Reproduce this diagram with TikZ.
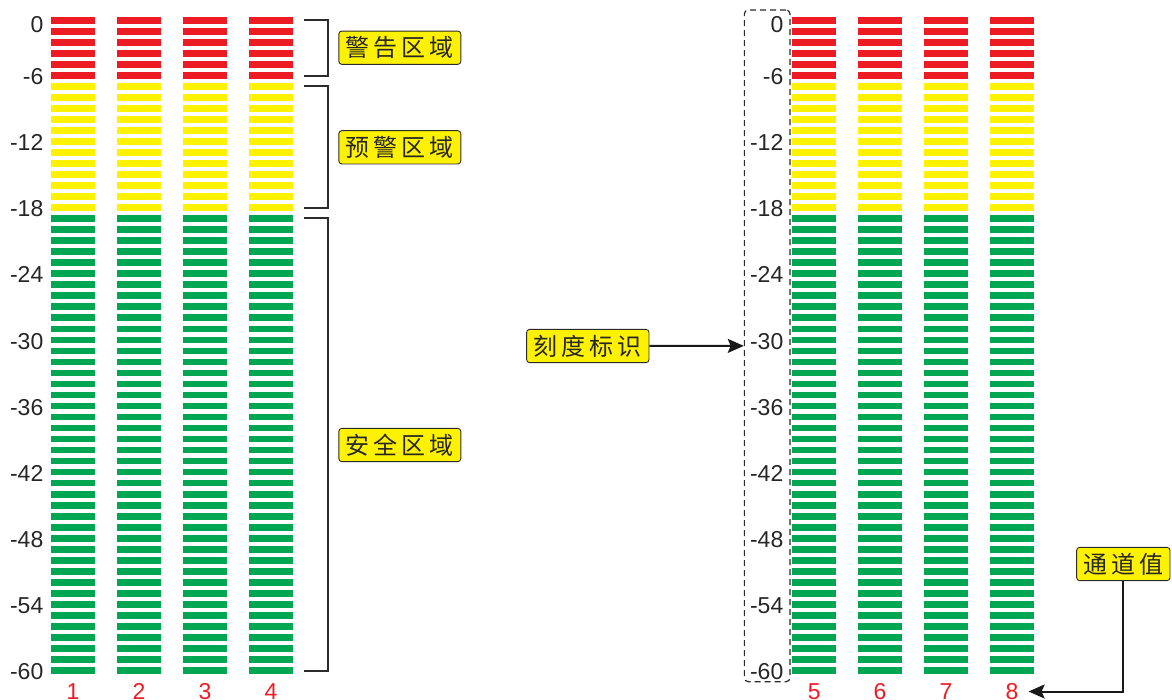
\documentclass[tikz,border=0pt]{standalone}
\usepackage{fontspec}
\setmainfont{Liberation Sans}
\newfontfamily\cjk{Noto Sans CJK SC}
\usetikzlibrary{arrows.meta}
\definecolor{mred}{HTML}{ED1C24}
\definecolor{myellow}{HTML}{FFF200}
\definecolor{mgreen}{HTML}{00A651}
\definecolor{mline}{HTML}{2B2B2B}
\newcommand{\gp}{\hspace{4pt}}
\begin{document}
\begin{tikzpicture}[x=1pt,y=-1pt,
  tag/.style={draw=mline, line width=0.9pt, fill=myellow, rounded corners=3pt,
    font=\cjk\fontsize{24}{24}\selectfont, inner sep=0pt, minimum height=33.3pt, text=black!85},
  scalelab/.style={anchor=east, inner sep=0pt, font=\fontsize{23}{23}\selectfont, text=black!85},
  chlab/.style={inner sep=0pt, text=mred, font=\fontsize{23}{23}\selectfont},
  brk/.style={draw=mline, line width=2pt},
  conn/.style={draw=black!90, line width=2pt, -{Stealth[length=16pt,width=14pt,inset=3pt]}}
]
\useasboundingbox (0,0) rectangle (1172,699);
% meter bars
\foreach \gx in {51,117,183,249,792.3,858,924,990}{
  \foreach \i in {0,...,59}{
    \pgfmathsetmacro\yc{20.3+11.02*\i}
    \ifnum\i<6 \def\barcol{mred}\else\ifnum\i<18 \def\barcol{myellow}\else\def\barcol{mgreen}\fi\fi
    \fill[\barcol] (\gx,\yc-3.35) rectangle ++(44,6.7);
  }
}
% scale labels
\node[scalelab] (la0) at (43.5,25) {0};
\node[scalelab] (ra0) at (783.5,25) {0};
\foreach \k in {1,...,10}{
  \pgfmathsetmacro\yl{20.3+11.02*(6*\k-1)+1.2}
  \pgfmathtruncatemacro\lab{-6*\k}
  \node[scalelab] (la\k) at (43.5,\yl) {\lab};
  \node[scalelab] (ra\k) at (783.5,\yl) {\lab};
}
% channel numbers
\foreach \n/\x in {1/73,2/139,3/205,4/271,5/814.3,6/880,7/946,8/1012}{
  \node[chlab] (c\n) at (\x,691.5) {\n};
}
% brackets
\draw[brk] (304,20) -- (328,20) -- (328,75.7) -- (304,75.7);
\draw[brk] (304,86) -- (328,86) -- (328,207.7) -- (304,207.7);
\draw[brk] (304,218.3) -- (328,218.3) -- (328,670.7) -- (304,670.7);
% zone tags
\node[tag, minimum width=122pt] (warn) at (399.8,47.7) {警\gp 告\gp 区\gp 域};
\node[tag, minimum width=122pt] (prewarn) at (399.8,147.3) {预\gp 警\gp 区\gp 域};
\node[tag, minimum width=122pt] (safe) at (399.8,445) {安\gp 全\gp 区\gp 域};
% scale marker
\node[draw=mline, line width=1.2pt, dash pattern=on 6pt off 4pt, rounded corners=4pt,
  minimum width=45.7pt, minimum height=671.7pt, inner sep=0pt] (scale) at (767.2,345.85) {};
\node[tag, minimum width=122.3pt] (kd) at (587.8,346) {刻\gp 度\gp 标\gp 识};
\draw[conn] (kd) -- (scale);
% channel value
\node[tag, minimum width=93.3pt] (tv) at (1123.3,564) {通\gp 道\gp 值};
\draw[conn, shorten >=10pt] (tv.south) |- (c8.east);
\end{tikzpicture}
\end{document}
